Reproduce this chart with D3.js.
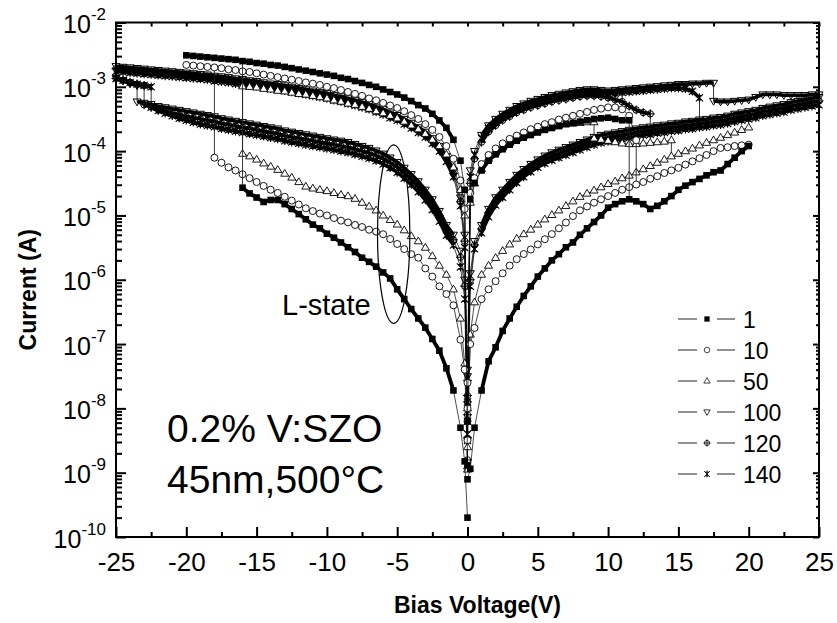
<!DOCTYPE html>
<html><head><meta charset="utf-8">
<script src="https://cdn.jsdelivr.net/npm/d3@7"></script>
<style>body{margin:0;background:#fff}svg{display:block}text{font-family:"Liberation Sans",Arial,sans-serif;fill:#000}</style>
</head><body><svg id="c" width="837" height="623"></svg>
<script>
// ---------- axis / category data ----------
const vGrid = [0,0.2,0.5,1,1.5,2,2.5,3,3.5,4,4.5,5,5.5,6,6.5,7,7.5,8,8.5,9,9.5,10,10.5,11,11.5,12,12.5,13,13.5,14,14.5,15,15.5,16,16.5,17,17.5,18,18.5,19,19.5,20,20.5,21,21.5,22,22.5,23,23.5,24,24.5,25];
const xMajor = [-25,-20,-15,-10,-5,0,5,10,15,20,25];
const xMinor = [-22.5,-17.5,-12.5,-7.5,-2.5,2.5,7.5,12.5,17.5,22.5];
const yDecades = [1e-10,1e-9,1e-8,1e-7,1e-6,1e-5,1e-4,1e-3,1e-2];
const yExponents = ["-10","-9","-8","-7","-6","-5","-4","-3","-2"];
const legendLabels = ["1","10","50","100","120","140"];

// ---------- series values (|I| in A, at vGrid voltages) ----------
// cycle 1 (filled squares)
const s1NegH = [1.3e-9,2.5e-5,7.1e-5,1.5e-4,2.3e-4,3.0e-4,3.8e-4,4.6e-4,5.2e-4,6.0e-4,6.8e-4,7.6e-4,8.3e-4,9.1e-4,1.0e-3,1.07e-3,1.15e-3,1.23e-3,1.32e-3,1.38e-3,1.48e-3,1.55e-3,1.62e-3,1.70e-3,1.78e-3,1.86e-3,1.95e-3,2.04e-3,2.14e-3,2.19e-3,2.29e-3,2.34e-3,2.45e-3,2.51e-3,2.63e-3,2.69e-3,2.75e-3,2.82e-3,2.88e-3,2.95e-3,3.02e-3,3.09e-3];
const s1NegL = [2.0e-10,1.5e-9,5.0e-9,1.9e-8,4.2e-8,7.9e-8,1.2e-7,1.8e-7,2.5e-7,3.5e-7,5.0e-7,7.1e-7,1.05e-6,1.3e-6,1.6e-6,1.9e-6,2.2e-6,2.7e-6,3.2e-6,3.8e-6,4.5e-6,5.2e-6,6.3e-6,7.2e-6,8.7e-6,1.05e-5,1.26e-5,1.5e-5,1.74e-5,1.74e-5,1.62e-5,1.9e-5,2.2e-5,2.7e-5];
const s1PosL = [7.9e-10,1.15e-9,5.0e-9,1.9e-8,5.4e-8,8.9e-8,1.6e-7,2.5e-7,3.8e-7,5.6e-7,7.9e-7,1.12e-6,1.5e-6,2.0e-6,2.5e-6,3.2e-6,3.8e-6,5.0e-6,6.3e-6,7.9e-6,1.0e-5,1.32e-5,1.5e-5,1.66e-5,1.78e-5,1.66e-5,1.5e-5,1.26e-5,1.41e-5,1.66e-5,2.0e-5,2.5e-5,2.9e-5,3.3e-5,3.7e-5,4.2e-5,4.7e-5,5.0e-5,6.3e-5,7.9e-5,1.0e-4,1.2e-4];
const s1PosRet = [6.3e-9,1.78e-5,3.2e-5,5.0e-5,7.1e-5,8.9e-5,1.07e-4,1.26e-4,1.45e-4,1.62e-4,1.78e-4,1.95e-4,2.14e-4,2.29e-4,2.45e-4,2.63e-4,2.75e-4,2.88e-4,3.02e-4,3.16e-4,3.24e-4,3.31e-4,3.16e-4,3.02e-4,3.02e-4];
const s1Jumps = [[-16,2.51e-3,2.7e-5],[11.5,1.78e-5,3.02e-4]];
// cycle 10 (open circles)
const s10NegH = [3.2e-9,1.26e-5,3.5e-5,7.6e-5,1.2e-4,1.66e-4,2.14e-4,2.63e-4,3.16e-4,3.63e-4,4.17e-4,4.68e-4,5.13e-4,5.62e-4,6.17e-4,6.61e-4,7.24e-4,7.76e-4,8.32e-4,8.91e-4,9.55e-4,1.0e-3,1.07e-3,1.12e-3,1.17e-3,1.23e-3,1.29e-3,1.35e-3,1.41e-3,1.48e-3,1.55e-3,1.62e-3,1.70e-3,1.74e-3,1.82e-3,1.86e-3,1.95e-3,2.0e-3,2.04e-3,2.09e-3,2.14e-3,2.19e-3];
const s10NegL = [6.3e-9,4.0e-8,1.17e-7,4.0e-7,6.0e-7,7.9e-7,1.12e-6,1.5e-6,2.2e-6,2.5e-6,3.0e-6,3.6e-6,4.3e-6,5.1e-6,5.6e-6,6.0e-6,6.6e-6,7.1e-6,7.8e-6,8.3e-6,9.1e-6,1.0e-5,1.07e-5,1.17e-5,1.29e-5,1.48e-5,1.7e-5,1.95e-5,2.24e-5,2.51e-5,2.88e-5,3.31e-5,3.8e-5,4.37e-5,5.0e-5,5.6e-5,6.6e-5,7.9e-5];
const s10PosL = [1.0e-8,1.0e-7,1.78e-7,5.0e-7,7.1e-7,9.5e-7,1.26e-6,1.66e-6,2.09e-6,2.51e-6,2.95e-6,3.55e-6,4.27e-6,5.13e-6,6.31e-6,7.76e-6,9.77e-6,1.2e-5,1.38e-5,1.58e-5,1.78e-5,2.0e-5,2.24e-5,2.51e-5,2.75e-5,3.02e-5,3.31e-5,3.72e-5,4.07e-5,4.57e-5,5.01e-5,5.5e-5,6.17e-5,6.92e-5,7.76e-5,8.71e-5,1.0e-4,1.12e-4,1.15e-4,1.2e-4,1.23e-4,1.26e-4];
const s10PosRet = [2.5e-8,2.24e-5,3.8e-5,6.3e-5,8.7e-5,1.1e-4,1.32e-4,1.55e-4,1.74e-4,1.95e-4,2.19e-4,2.4e-4,2.63e-4,2.82e-4,3.09e-4,3.31e-4,3.55e-4,3.8e-4,4.07e-4,4.37e-4,4.57e-4,4.79e-4,4.79e-4,4.47e-4,3.55e-4,1.48e-4];
const s10Jumps = [[-18,2.0e-3,7.9e-5],[12,3.02e-5,1.48e-4]];
// cycle 50 (open up-triangles)
const s50NegH = [1.26e-9,1.0e-5,2.5e-5,5.6e-5,8.9e-5,1.2e-4,1.51e-4,1.86e-4,2.19e-4,2.51e-4,2.88e-4,3.24e-4,3.55e-4,3.89e-4,4.17e-4,4.57e-4,4.9e-4,5.25e-4,5.5e-4,5.89e-4,6.17e-4,6.61e-4,6.92e-4,7.24e-4,7.59e-4,7.76e-4,8.13e-4,8.51e-4,8.71e-4,9.12e-4,9.33e-4,9.77e-4,1.0e-3,1.02e-3];
const s50NegL = [1.12e-9,5.0e-8,2.5e-7,7.1e-7,1.2e-6,1.66e-6,2.34e-6,3.16e-6,3.98e-6,4.79e-6,5.89e-6,7.24e-6,8.51e-6,1.0e-5,1.2e-5,1.38e-5,1.58e-5,1.82e-5,2.0e-5,2.09e-5,2.24e-5,2.4e-5,2.51e-5,2.63e-5,2.82e-5,3.31e-5,3.89e-5,4.47e-5,5.13e-5,5.75e-5,6.46e-5,7.41e-5,8.32e-5,9.12e-5];
const s50PosL = [2.5e-9,1.41e-7,4.47e-7,1.2e-6,1.66e-6,2.19e-6,2.82e-6,3.55e-6,4.37e-6,5.13e-6,6.03e-6,7.24e-6,8.71e-6,1.02e-5,1.2e-5,1.41e-5,1.66e-5,1.95e-5,2.19e-5,2.45e-5,2.75e-5,3.09e-5,3.39e-5,3.8e-5,4.17e-5,4.68e-5,5.25e-5,5.89e-5,6.61e-5,7.41e-5,8.32e-5,9.12e-5,1.0e-4,1.1e-4,1.23e-4,1.35e-4,1.48e-4,1.62e-4,1.78e-4,1.95e-4,2.14e-4,2.34e-4];
const s50PosMid = [1.58e-4,1.51e-4,1.45e-4,1.38e-4,1.32e-4,1.29e-4,1.29e-4,1.32e-4,1.35e-4,1.38e-4,1.41e-4,1.48e-4];
const s50PosRet = [1.0e-8,1.58e-5,3.16e-5,5.25e-5,7.59e-5,9.55e-5,1.15e-4,1.35e-4,1.55e-4,1.74e-4,1.91e-4,2.09e-4,2.24e-4,2.4e-4,2.51e-4,2.63e-4,2.69e-4,2.75e-4,2.82e-4,2.82e-4];
const s50Jumps = [[-16,1.02e-3,9.12e-5],[14.5,8.32e-5,1.48e-4],[9,1.58e-4,2.82e-4]];
// cycle 100 (open down-triangles)
const s100NegH = [3.2e-9,5.0e-6,1.9e-5,5.0e-5,8.3e-5,1.2e-4,1.58e-4,2.0e-4,2.34e-4,2.75e-4,3.16e-4,3.63e-4,3.98e-4,4.47e-4,4.9e-4,5.37e-4,5.75e-4,6.17e-4,6.61e-4,7.08e-4,7.41e-4,7.94e-4,8.32e-4,8.71e-4,9.12e-4,9.55e-4,1.0e-3,1.05e-3,1.1e-3,1.12e-3,1.17e-3,1.23e-3,1.26e-3,1.32e-3,1.35e-3,1.41e-3,1.45e-3,1.48e-3,1.55e-3,1.58e-3,1.62e-3,1.66e-3,1.7e-3,1.74e-3,1.78e-3,1.82e-3,1.86e-3,1.91e-3,1.95e-3,2.0e-3,2.04e-3,2.09e-3];
const s100NegRet = [1.05e-3,1.12e-3,1.26e-3,1.38e-3];
const s100NegL = [2.5e-8,1.0e-6,2.82e-6,5.0e-6,7.08e-6,1.17e-5,1.78e-5,2.51e-5,3.39e-5,4.37e-5,5.5e-5,6.76e-5,7.94e-5,9.12e-5,1.02e-4,1.12e-4,1.2e-4,1.29e-4,1.38e-4,1.45e-4,1.51e-4,1.58e-4,1.66e-4,1.74e-4,1.82e-4,1.91e-4,2.0e-4,2.09e-4,2.24e-4,2.34e-4,2.45e-4,2.57e-4,2.69e-4,2.82e-4,2.95e-4,3.09e-4,3.24e-4,3.47e-4,3.63e-4,3.8e-4,3.98e-4,4.17e-4,4.37e-4,4.57e-4,4.79e-4,5.01e-4,5.37e-4,5.62e-4,5.89e-4];
const s100PosL = [3.16e-8,1.26e-6,3.98e-6,7.08e-6,1.26e-5,1.91e-5,2.51e-5,3.31e-5,4.27e-5,5.25e-5,6.31e-5,7.41e-5,8.51e-5,9.55e-5,1.05e-4,1.15e-4,1.26e-4,1.38e-4,1.51e-4,1.66e-4,1.78e-4,1.86e-4,1.95e-4,2.04e-4,2.14e-4,2.24e-4,2.34e-4,2.4e-4,2.51e-4,2.57e-4,2.69e-4,2.75e-4,2.88e-4,2.95e-4,3.09e-4,3.16e-4,3.31e-4,3.39e-4,3.55e-4,3.8e-4,3.98e-4,4.17e-4,4.37e-4,4.68e-4,4.9e-4,5.13e-4,5.37e-4,5.75e-4,6.03e-4,6.31e-4,6.61e-4,6.92e-4];
const s100PosRet = [6.03e-4,5.89e-4,5.89e-4,6.03e-4,6.17e-4,6.31e-4,6.92e-4,7.59e-4,7.59e-4,7.59e-4,7.41e-4,7.41e-4,7.41e-4,7.41e-4,7.59e-4,7.59e-4];
const s100PosH = [3.98e-8,5.01e-5,1.0e-4,1.78e-4,2.51e-4,3.16e-4,3.8e-4,4.37e-4,5.01e-4,5.5e-4,6.03e-4,6.46e-4,6.92e-4,7.41e-4,7.76e-4,8.13e-4,8.51e-4,8.91e-4,9.12e-4,9.12e-4,8.91e-4,8.71e-4,8.91e-4,9.12e-4,9.33e-4,9.55e-4,9.77e-4,1.0e-3,1.02e-3,1.05e-3,1.07e-3,1.1e-3,1.1e-3,1.12e-3,1.12e-3,1.15e-3,1.15e-3];
const s100Jumps = [[-23.5,1.05e-3,5.89e-4],[17.5,6.03e-4,1.15e-3]];
// cycle 120 (crossed circles)
const s120NegH = [1.58e-9,3.98e-6,1.66e-5,4.47e-5,7.59e-5,1.1e-4,1.45e-4,1.82e-4,2.14e-4,2.51e-4,2.88e-4,3.31e-4,3.63e-4,4.07e-4,4.47e-4,4.9e-4,5.25e-4,5.62e-4,6.03e-4,6.46e-4,6.76e-4,7.24e-4,7.59e-4,7.94e-4,8.32e-4,8.71e-4,9.12e-4,9.55e-4,1.0e-3,1.02e-3,1.07e-3,1.12e-3,1.15e-3,1.2e-3,1.23e-3,1.29e-3,1.32e-3,1.35e-3,1.41e-3,1.45e-3,1.48e-3,1.51e-3,1.55e-3,1.58e-3,1.62e-3,1.66e-3,1.7e-3,1.74e-3,1.78e-3,1.82e-3,1.86e-3,1.91e-3];
const s120NegRet = [1.05e-3,1.1e-3,1.17e-3,1.26e-3,1.35e-3];
const s120NegL = [1.26e-8,7.94e-7,2.24e-6,4.17e-6,5.89e-6,9.77e-6,1.48e-5,2.09e-5,2.82e-5,3.63e-5,4.57e-5,5.62e-5,6.61e-5,7.59e-5,8.51e-5,9.33e-5,1.0e-4,1.07e-4,1.15e-4,1.2e-4,1.26e-4,1.32e-4,1.38e-4,1.45e-4,1.51e-4,1.58e-4,1.66e-4,1.74e-4,1.86e-4,1.95e-4,2.04e-4,2.14e-4,2.24e-4,2.34e-4,2.45e-4,2.57e-4,2.69e-4,2.88e-4,3.02e-4,3.16e-4,3.31e-4,3.47e-4,3.72e-4,3.89e-4,4.17e-4,4.47e-4,4.9e-4,5.25e-4];
const s120PosL = [1.58e-8,1.0e-6,3.47e-6,6.17e-6,1.1e-5,1.66e-5,2.19e-5,2.88e-5,3.72e-5,4.57e-5,5.5e-5,6.46e-5,7.41e-5,8.32e-5,9.12e-5,1.0e-4,1.1e-4,1.2e-4,1.32e-4,1.45e-4,1.55e-4,1.62e-4,1.7e-4,1.78e-4,1.86e-4,1.95e-4,2.04e-4,2.09e-4,2.19e-4,2.24e-4,2.34e-4,2.4e-4,2.51e-4,2.57e-4,2.69e-4,2.75e-4,2.88e-4,2.95e-4,3.09e-4,3.31e-4,3.47e-4,3.63e-4,3.8e-4,4.07e-4,4.27e-4,4.47e-4,4.68e-4,5.01e-4,5.25e-4,5.5e-4,5.75e-4,6.03e-4];
const s120PosH = [7.94e-9,3.16e-5,7.59e-5,1.38e-4,2.0e-4,2.51e-4,3.02e-4,3.47e-4,3.98e-4,4.37e-4,4.79e-4,5.13e-4,5.5e-4,5.89e-4,6.17e-4,6.46e-4,6.76e-4,7.08e-4,7.24e-4,7.24e-4,7.08e-4,6.76e-4,6.31e-4,5.89e-4,5.01e-4,4.37e-4,3.98e-4,3.8e-4];
const s120Jumps = [[-23,1.05e-3,5.25e-4],[13,2.09e-4,3.8e-4]];
// cycle 140 (crossed stars)
const s140NegH = [3.98e-9,3.16e-6,1.41e-5,3.98e-5,6.92e-5,1.0e-4,1.32e-4,1.66e-4,1.95e-4,2.29e-4,2.63e-4,3.02e-4,3.31e-4,3.72e-4,4.07e-4,4.47e-4,4.79e-4,5.13e-4,5.5e-4,5.89e-4,6.17e-4,6.61e-4,6.92e-4,7.24e-4,7.59e-4,7.94e-4,8.32e-4,8.71e-4,9.12e-4,9.33e-4,9.77e-4,1.02e-3,1.05e-3,1.1e-3,1.12e-3,1.17e-3,1.2e-3,1.23e-3,1.29e-3,1.32e-3,1.35e-3,1.38e-3,1.41e-3,1.45e-3,1.48e-3,1.51e-3,1.55e-3,1.58e-3,1.62e-3,1.66e-3,1.7e-3,1.74e-3];
const s140NegRet = [1.0e-3,1.05e-3,1.1e-3,1.17e-3,1.26e-3,1.35e-3];
const s140NegL = [3.16e-9,5.01e-7,1.58e-6,3.47e-6,4.9e-6,8.13e-6,1.23e-5,1.74e-5,2.34e-5,3.02e-5,3.8e-5,4.68e-5,5.5e-5,6.31e-5,7.08e-5,7.76e-5,8.32e-5,8.91e-5,9.55e-5,1.0e-4,1.05e-4,1.1e-4,1.15e-4,1.2e-4,1.26e-4,1.32e-4,1.38e-4,1.45e-4,1.55e-4,1.62e-4,1.7e-4,1.78e-4,1.86e-4,1.95e-4,2.04e-4,2.14e-4,2.24e-4,2.4e-4,2.51e-4,2.63e-4,2.82e-4,3.02e-4,3.24e-4,3.55e-4,3.89e-4,4.27e-4,4.79e-4];
const s140PosL = [6.31e-9,7.94e-7,3.02e-6,5.37e-6,9.55e-6,1.45e-5,1.91e-5,2.51e-5,3.24e-5,3.98e-5,4.79e-5,5.62e-5,6.46e-5,7.24e-5,7.94e-5,8.71e-5,9.55e-5,1.05e-4,1.15e-4,1.26e-4,1.35e-4,1.41e-4,1.48e-4,1.55e-4,1.62e-4,1.7e-4,1.78e-4,1.82e-4,1.91e-4,1.95e-4,2.04e-4,2.09e-4,2.19e-4,2.24e-4,2.34e-4,2.4e-4,2.51e-4,2.57e-4,2.69e-4,2.88e-4,3.02e-4,3.16e-4,3.31e-4,3.55e-4,3.72e-4,3.89e-4,4.07e-4,4.37e-4,4.57e-4,4.79e-4,5.01e-4,5.25e-4];
const s140PosH = [1.26e-8,3.98e-5,8.71e-5,1.58e-4,2.24e-4,2.82e-4,3.39e-4,3.89e-4,4.47e-4,4.9e-4,5.37e-4,5.75e-4,6.17e-4,6.61e-4,6.92e-4,7.24e-4,7.59e-4,7.94e-4,8.13e-4,8.13e-4,7.94e-4,7.76e-4,7.94e-4,8.13e-4,8.32e-4,8.51e-4,8.71e-4,8.91e-4,9.12e-4,9.33e-4,9.55e-4,9.55e-4,9.33e-4,8.51e-4,6.76e-4];
const s140Jumps = [[-22.5,1.0e-3,4.79e-4],[16.5,2.34e-4,6.76e-4]];

// annotation region (L-state ellipse) in data units
const ellipseV = [-6.4,-4.1];
const ellipseI = [2.1e-7,1.25e-4];

// segments: [sign, start index in vGrid, values]
const series = [
  {label:"1",   shape:"square",   band:3.8, segs:[[-1,0,s1NegH],[-1,0,s1NegL],[1,0,s1PosL],[1,0,s1PosRet]], jumps:s1Jumps},
  {label:"10",  shape:"circle",   band:0,   segs:[[-1,0,s10NegH],[-1,0,s10NegL],[1,0,s10PosL],[1,0,s10PosRet]], jumps:s10Jumps},
  {label:"50",  shape:"triUp",    band:0,   segs:[[-1,0,s50NegH],[-1,0,s50NegL],[1,0,s50PosL],[1,19,s50PosMid],[1,0,s50PosRet]], jumps:s50Jumps},
  {label:"100", shape:"triDown",  band:3.6, segs:[[-1,0,s100NegH],[-1,48,s100NegRet],[-1,0,s100NegL],[1,0,s100PosL],[1,36,s100PosRet],[1,0,s100PosH]], jumps:s100Jumps},
  {label:"120", shape:"circPlus", band:3.6, segs:[[-1,0,s120NegH],[-1,47,s120NegRet],[-1,0,s120NegL],[1,0,s120PosL],[1,0,s120PosH]], jumps:s120Jumps},
  {label:"140", shape:"star",     band:3.6, segs:[[-1,0,s140NegH],[-1,46,s140NegRet],[-1,0,s140NegL],[1,0,s140PosL],[1,0,s140PosH]], jumps:s140Jumps}
];

// ---------- drawing ----------
const svg = d3.select("#c");
const x = d3.scaleLinear().domain([-25,25]).range([116,819]);
const y = d3.scaleLog().domain([1e-10,1e-2]).range([537,22.5]);
const [x0,x1] = x.range(), [yb,yt] = y.range();

const cp = r => `M${r},0A${r},${r} 0 1,1 ${-r},0A${r},${r} 0 1,1 ${r},0Z`;
const shapes = {
  square:  {d:"M-3.3,-3.3H3.3V3.3H-3.3Z", fill:"#000", stroke:"none", sw:0},
  circle:  {d:cp(3.5), fill:"#fff", stroke:"#000", sw:0.9},
  triUp:   {d:"M0,-4.2L4,2.6H-4Z", fill:"#fff", stroke:"#000", sw:0.9},
  triDown: {d:"M0,4.2L4,-2.6H-4Z", fill:"none", stroke:"#000", sw:1},
  circPlus:{d:cp(3.2)+"M-4.5,0H4.5M0,-4.5V4.5", fill:"none", stroke:"#000", sw:1},
  star:    {d:"M-3.6,-3.6L3.6,3.6M-3.6,3.6L3.6,-3.6M0,-4.3V4.3M-2.3,-2.3H2.3M-2.3,2.3H2.3", fill:"none", stroke:"#000", sw:1.1}
};

const plot = svg.append("g");
const line = d3.line().x(d=>x(d.v)).y(d=>y(d.c));
const drawOrder = series.slice().reverse();
drawOrder.forEach(s=>{
  const g = plot.append("g");
  const sh = shapes[s.shape];
  s.segs.forEach(([sign,k0,vals])=>{
    const pts = vals.map((c,j)=>({v:sign*vGrid[k0+j], c}));
    g.append("path").attr("d",line(pts)).attr("fill","none").attr("stroke","#000").attr("stroke-width",0.7);
    if (s.band > 0) {
      const far = pts.filter(p=>Math.abs(p.v)>=1);
      g.append("path").attr("d",line(far)).attr("fill","none").attr("stroke","#000")
        .attr("stroke-width",s.band).attr("stroke-linejoin","round");
    }
  });
  s.jumps.forEach(([v,c1,c2])=>{
    g.append("line").attr("x1",x(v)).attr("x2",x(v)).attr("y1",y(c1)).attr("y2",y(c2))
      .attr("stroke","#222").attr("stroke-width",0.9);
  });
  s.segs.forEach(([sign,k0,vals])=>{
    const pts = vals.map((c,j)=>({v:sign*vGrid[k0+j], c}));
    g.append("g").selectAll("path").data(pts).join("path")
      .attr("transform",d=>`translate(${x(d.v)},${y(d.c)})`)
      .attr("d",sh.d).attr("fill",sh.fill).attr("stroke",sh.stroke).attr("stroke-width",sh.sw);
  });
});

// frame
svg.append("rect").attr("x",x0).attr("y",yt).attr("width",x1-x0).attr("height",yb-yt)
  .attr("fill","none").attr("stroke","#000").attr("stroke-width",2);

// axes ticks
function styleAxis(g){ g.select(".domain").remove(); g.selectAll(".tick line").attr("stroke","#000").attr("stroke-width",2); }
const yMinor = [];
yDecades.slice(0,-1).forEach(d=>{ for(let m=2;m<=9;m++) yMinor.push(d*m); });
const xAll = xMajor.concat(xMinor);

svg.append("g").attr("transform",`translate(0,${yb})`)
  .call(d3.axisBottom(x).tickValues(xMajor).tickSize(-10).tickPadding(16).tickFormat(d=>d))
  .call(styleAxis)
  .call(g=>g.selectAll("text").attr("font-size",26).attr("font-family","Liberation Sans, Arial, sans-serif").attr("fill","#000"));
svg.append("g").attr("transform",`translate(0,${yb})`)
  .call(d3.axisBottom(x).tickValues(xMinor).tickSize(-5).tickFormat("")).call(styleAxis);
svg.append("g").attr("transform",`translate(0,${yt})`)
  .call(d3.axisTop(x).tickValues(xAll).tickSize(-4).tickFormat("")).call(styleAxis);
svg.append("g").attr("transform",`translate(${x0},0)`)
  .call(d3.axisLeft(y).tickValues(yDecades).tickSize(-10).tickFormat("")).call(styleAxis);
svg.append("g").attr("transform",`translate(${x0},0)`)
  .call(d3.axisLeft(y).tickValues(yMinor).tickSize(-6).tickFormat("")).call(styleAxis);
svg.append("g").attr("transform",`translate(${x1},0)`)
  .call(d3.axisRight(y).tickValues(yDecades).tickSize(-6).tickFormat("")).call(styleAxis);
svg.append("g").attr("transform",`translate(${x1},0)`)
  .call(d3.axisRight(y).tickValues(yMinor).tickSize(-3).tickFormat("")).call(styleAxis);

// y tick labels 10^n
const yl = svg.append("g").selectAll("text").data(yDecades).join("text")
  .attr("x",x0-10).attr("y",d=>y(d)+10.5).attr("text-anchor","end");
yl.append("tspan").attr("font-size",25).text("10");
yl.append("tspan").attr("font-size",17).attr("dy",-13).text((d,i)=>yExponents[i]);

// axis titles
svg.append("text").attr("x",(x0+x1)/2+10).attr("y",613).attr("text-anchor","middle")
  .attr("font-size",23).attr("font-weight","bold").text("Bias Voltage(V)");
svg.append("text").attr("transform",`translate(36,${(yb+yt)/2+10}) rotate(-90)`).attr("text-anchor","middle")
  .attr("font-size",23).attr("font-weight","bold").text("Current (A)");

// annotations
svg.append("text").attr("x",167).attr("y",442).attr("font-size",39).text("0.2% V:SZO");
svg.append("text").attr("x",167).attr("y",493).attr("font-size",39).text("45nm,500°C");
svg.append("ellipse")
  .attr("cx",(x(ellipseV[0])+x(ellipseV[1]))/2).attr("cy",(y(ellipseI[0])+y(ellipseI[1]))/2)
  .attr("rx",(x(ellipseV[1])-x(ellipseV[0]))/2).attr("ry",(y(ellipseI[0])-y(ellipseI[1]))/2)
  .attr("fill","none").attr("stroke","#000").attr("stroke-width",1.2);
svg.append("text").attr("x",282).attr("y",315).attr("font-size",29).text("L-state");

// legend
const leg = svg.append("g");
series.forEach((s,i)=>{
  const ly = 319 + i*31;
  const sh = shapes[s.shape];
  leg.append("line").attr("x1",678).attr("x2",697).attr("y1",ly).attr("y2",ly).attr("stroke","#555").attr("stroke-width",1.3);
  leg.append("line").attr("x1",717).attr("x2",735).attr("y1",ly).attr("y2",ly).attr("stroke","#555").attr("stroke-width",1.3);
  leg.append("path").attr("transform",`translate(707,${ly}) scale(0.8)`).attr("d",sh.d)
    .attr("fill",sh.fill==="none"?"#fff":sh.fill).attr("stroke",sh.stroke).attr("stroke-width",sh.sw);
  leg.append("text").attr("x",743).attr("y",ly+8.5).attr("font-size",23).text(legendLabels[i]);
});
</script></body></html>
